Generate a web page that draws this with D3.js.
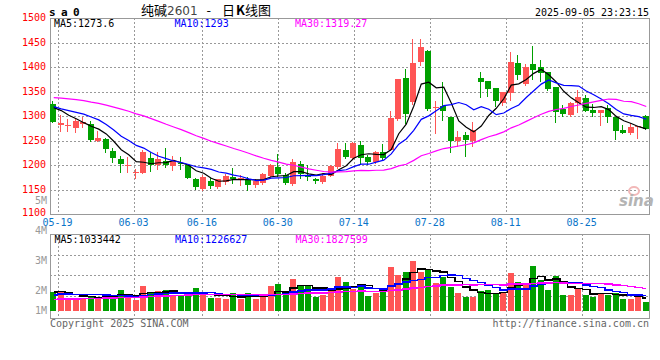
<!DOCTYPE html>
<html>
<head>
<meta charset="utf-8">
<script src="https://cdn.jsdelivr.net/npm/d3@7"></script>
<style>
  html, body { margin: 0; padding: 0; background: #fff; }
  svg { display: block; }
  text { font-family: "DejaVu Sans Mono", "Liberation Mono", monospace; font-size: 10px; }
</style>
</head>
<body>
<svg id="chart" width="660" height="360"></svg>
<script>
// trading days shown, 2025
const dates = [
  '05-16','05-19','05-20','05-21','05-22','05-23','05-26','05-27','05-28','05-29',
  '05-30','06-03','06-04','06-05','06-06','06-09','06-10','06-11','06-12','06-13',
  '06-16','06-17','06-18','06-19','06-20','06-23','06-24','06-25','06-26','06-27',
  '06-30','07-01','07-02','07-03','07-04','07-07','07-08','07-09','07-10','07-11',
  '07-14','07-15','07-16','07-17','07-18','07-21','07-22','07-23','07-24','07-25',
  '07-28','07-29','07-30','07-31','08-01','08-04','08-05','08-06','08-07','08-08',
  '08-11','08-12','08-13','08-14','08-15','08-18','08-19','08-20','08-21','08-22',
  '08-25','08-26','08-27','08-28','08-29','09-01','09-02','09-03','09-04','09-05'
];
const open = [
  1325,1282,1280,1276,1284,1284,1249,1253,1229,1213,
  1199,1184,1184,1214,1199,1208,1197,1205,1199,1172,
  1151,1168,1156,1166,1176,1170,1169,1159,1164,1178,
  1196,1180,1162,1202,1179,1172,1165,1178,1195,1231,
  1214,1241,1216,1207,1226,1231,1294,1377,1329,1410,
  1432,1316,1320,1298,1248,1261,1248,1377,1371,1357,
  1326,1346,1408,1366,1406,1400,1390,1360,1315,1302,
  1326,1337,1313,1307,1317,1298,1272,1266,1278,1301
];
const high = [
  1331,1303,1294,1295,1298,1290,1269,1256,1234,1219,
  1217,1192,1230,1226,1226,1235,1218,1216,1200,1174,
  1180,1174,1172,1181,1194,1180,1176,1171,1183,1203,
  1222,1183,1212,1209,1199,1174,1183,1199,1244,1244,
  1247,1249,1220,1229,1243,1311,1376,1396,1458,1458,
  1434,1331,1370,1298,1269,1268,1287,1390,1371,1357,
  1349,1431,1425,1406,1443,1415,1390,1360,1323,1328,
  1354,1342,1324,1313,1322,1298,1282,1286,1280,1303
];
const low = [
  1287,1270,1270,1268,1278,1250,1248,1226,1207,1185,
  1185,1173,1184,1187,1192,1195,1190,1192,1173,1152,
  1149,1154,1154,1162,1163,1160,1148,1155,1161,1176,
  1178,1161,1159,1173,1170,1163,1164,1177,1193,1214,
  1212,1202,1202,1204,1212,1230,1292,1285,1325,1405,
  1312,1266,1291,1227,1239,1218,1238,1339,1340,1321,
  1322,1333,1375,1364,1376,1372,1353,1288,1299,1299,
  1309,1310,1301,1282,1288,1254,1265,1264,1255,1274
];
const close = [
  1288,1285,1281,1290,1288,1251,1256,1232,1215,1202,
  1200,1185,1226,1200,1212,1201,1208,1202,1174,1156,
  1176,1157,1171,1178,1171,1173,1159,1168,1181,1199,
  1181,1164,1207,1182,1176,1168,1178,1197,1233,1217,
  1244,1214,1207,1226,1215,1296,1375,1305,1409,1441,
  1315,1318,1311,1248,1257,1251,1271,1370,1356,1331,
  1348,1410,1383,1400,1394,1388,1356,1309,1305,1327,
  1339,1310,1306,1313,1297,1270,1266,1278,1280,1274
];
// volume, thousand lots
const volume = [
  1572,1572,967,967,967,1237,1107,1237,1051,1711,
  1376,884,2037,1460,1628,1711,1293,1209,1209,1869,
  1293,1051,1051,967,1460,967,1460,967,1153,2037,
  2232,1293,2613,2120,2037,1153,1321,1655,2809,2399,
  1767,2232,1237,1488,1711,3636,2948,3227,4101,3227,
  3441,2316,2753,1981,1488,1153,1079,1655,1711,1432,
  1572,3143,2399,2316,3720,2483,1711,2892,1293,1293,
  1869,1293,1153,1488,1293,1480,930,930,1130,697
];
// the 29 sessions before 05-16 are off the chart; estimated from where the MA lines start
const earlierClose = [
  1318,1325,1340,1352,1338,1330,1345,1336,1326,1330,
  1342,1355,1368,1375,1380,1372,1365,1358,1350,1335,
  1330,1318,1325,1322,1310,1315,1328,1326,1328
];
const earlierVolume = [
  650,840,745,700,790,880,650,745,840,605,
  745,700,790,840,650,745,700,790,745,790,
  930,1023,1116,1060,1116,1395,1581,1544,1581
];

const xTicks = ['05-19','06-03','06-16','06-30','07-14','07-28','08-11','08-25'];
const priceTicks = [1100, 1150, 1200, 1250, 1300, 1350, 1400, 1450, 1500];
const volTicks = [5, 4, 3, 2, 1];
const maPeriods = [5, 10, 30];
const priceLegend = ['MA5:1273.6', 'MA10:1293', 'MA30:1319.27'];
const volLegend = ['MA5:1033442', 'MA10:1226627', 'MA30:1827599'];

const left = 50, right = 650;
const priceTop = 18, priceBottom = 214;
const volTop = 234, volBottom = 318, volBase = 310.5;
const upColor = '#ff5555', downColor = '#00a000';
const maColors = ['#000000', '#0000ff', '#ff00ff'];
const gridColor = '#999';

const svg = d3.select('#chart');

const x = d3.scaleBand().domain(dates).range([left, right]).paddingInner(0.2).paddingOuter(0.1);
const gx = d3.scaleLinear().domain([0, dates.length - 1]).range([left, right]);
const y = d3.scaleLinear().domain([1100, 1500]).range([priceBottom, priceTop]);
const vy = d3.scaleLinear().domain([0, 6000]).range([volBase, volBase - 72.5]);
const volLabelY = d3.scaleLinear().domain([1, 2, 5]).range([310.7, 290.5, 200.5]);

const bw = Math.round(x.bandwidth());
const bodyX = d => Math.floor(x(d));
const cx = d => Math.floor(x(d)) + 2.5;

function movingAvg(series, earlier, n) {
  const all = earlier.concat(series);
  return series.map((_, i) => d3.mean(all.slice(earlier.length + i - n + 1, earlier.length + i + 1)));
}

// grid
const grid = svg.append('g').attr('stroke', gridColor).attr('stroke-dasharray', '2,2')
  .attr('shape-rendering', 'crispEdges');
grid.selectAll('.hp').data(priceTicks.slice(1, -1)).enter().append('line')
  .attr('x1', left).attr('x2', right)
  .attr('y1', d => Math.round(y(d)) + 0.5).attr('y2', d => Math.round(y(d)) + 0.5);
grid.selectAll('.hv').data([1, 2, 3]).enter().append('line')
  .attr('x1', left).attr('x2', right)
  .attr('y1', d => Math.round(volTop + d * 20.5) + 0.5).attr('y2', d => Math.round(volTop + d * 20.5) + 0.5);
xTicks.forEach(t => {
  const gxp = Math.round(gx(dates.indexOf(t))) + 0.5;
  grid.append('line').attr('x1', gxp).attr('x2', gxp).attr('y1', priceTop).attr('y2', priceBottom);
  grid.append('line').attr('x1', gxp).attr('x2', gxp).attr('y1', volTop).attr('y2', volBottom);
});

// panel frames
const frame = svg.append('g').attr('fill', 'none').attr('stroke', gridColor).attr('shape-rendering', 'crispEdges');
frame.append('rect').attr('x', left + 0.5).attr('y', priceTop + 0.5)
  .attr('width', right - left - 1).attr('height', priceBottom - priceTop);
frame.append('rect').attr('x', left + 0.5).attr('y', volTop + 0.5)
  .attr('width', right - left - 1).attr('height', volBottom - volTop);

// sina watermark
const mark = svg.append('g');
mark.append('ellipse').attr('cx', 634).attr('cy', 191).attr('rx', 5).attr('ry', 4)
  .attr('fill', 'none').attr('stroke', '#f2b8b8').attr('stroke-width', 2);
mark.append('text').attr('x', 619).attr('y', 206)
  .style('font-family', '"DejaVu Sans", sans-serif').style('font-size', '15px')
  .style('font-weight', 'bold').style('font-style', 'italic')
  .attr('fill', '#b4b4b4').text('sina');

// candles
const candles = svg.append('g').attr('shape-rendering', 'crispEdges');
const candle = candles.selectAll('g').data(dates).enter().append('g')
  .attr('fill', (d, i) => close[i] >= open[i] ? upColor : downColor)
  .attr('stroke', (d, i) => close[i] >= open[i] ? upColor : downColor);
candle.append('line')
  .attr('x1', d => cx(d)).attr('x2', d => cx(d))
  .attr('y1', (d, i) => Math.round(y(high[i]))).attr('y2', (d, i) => Math.round(y(low[i])) + 1);
candle.append('rect')
  .attr('stroke', 'none')
  .attr('x', d => bodyX(d)).attr('width', bw)
  .attr('y', (d, i) => Math.round(y(Math.max(open[i], close[i]))))
  .attr('height', (d, i) => Math.max(1, Math.round(y(Math.min(open[i], close[i]))) - Math.round(y(Math.max(open[i], close[i])))));

// volume bars
svg.append('g').attr('shape-rendering', 'crispEdges')
  .selectAll('rect').data(volume).enter().append('rect')
  .attr('x', (d, i) => bodyX(dates[i])).attr('width', bw)
  .attr('y', d => Math.round(vy(d)))
  .attr('height', d => Math.round(volBase) - Math.round(vy(d)))
  .attr('fill', (d, i) => close[i] >= open[i] ? upColor : downColor);

// moving averages
const priceLine = d3.line().x((d, i) => x(dates[i]) + x.bandwidth() / 2).y(d => y(d));
const volLine = d3.line().x((d, i) => x(dates[i]) + x.bandwidth() / 2).y(d => vy(d)).curve(d3.curveStep);
maPeriods.forEach((n, k) => {
  svg.append('path').datum(movingAvg(close, earlierClose, n))
    .attr('fill', 'none').attr('stroke', maColors[k]).attr('stroke-width', 1.2)
    .attr('d', priceLine);
  svg.append('path').datum(movingAvg(volume, earlierVolume, n))
    .attr('fill', 'none').attr('stroke', maColors[k]).attr('stroke-width', 1.5)
    .attr('shape-rendering', 'crispEdges')
    .attr('d', volLine);
});

// legends
priceLegend.forEach((t, k) => {
  svg.append('text').attr('x', 54 + k * 120.5).attr('y', 27).attr('fill', maColors[k]).text(t);
});
volLegend.forEach((t, k) => {
  svg.append('text').attr('x', 54.5 + k * 120.5).attr('y', 242.5).attr('fill', maColors[k]).text(t);
});

// price axis labels
svg.append('g').selectAll('text').data(priceTicks).enter().append('text')
  .attr('x', 46).attr('text-anchor', 'end').attr('fill', '#ff0000')
  .attr('y', d => Math.min(212.5, Math.max(15.5, y(d) - 0.5)) + 3.6)
  .text(d => d);

// volume axis labels
svg.append('g').selectAll('text').data(volTicks).enter().append('text')
  .attr('x', 47).attr('text-anchor', 'end').attr('fill', '#999')
  .attr('y', d => volLabelY(d) + 3.6)
  .text(d => d + 'M');

// date labels
svg.append('g').selectAll('text').data(xTicks).enter().append('text')
  .attr('x', d => gx(dates.indexOf(d)))
  .attr('y', 225.5).attr('text-anchor', 'middle').attr('fill', '#0a74c9')
  .text(d => d);

// header
svg.append('text').attr('x', 49).attr('y', 16)
  .style('font-size', '11px').style('font-weight', 'bold').style('letter-spacing', '5.4px')
  .text('sa0');
const title = svg.append('text').attr('x', 141).attr('y', 15)
  .style('font-family', '"Noto Sans CJK SC", sans-serif').style('font-size', '13px').attr('fill', '#000');
title.append('tspan').text('纯碱');
title.append('tspan').attr('fill', '#444').style('font-family', '"DejaVu Sans", sans-serif').style('font-size', '12px').text('2601');
title.append('tspan').attr('dx', 9).text('-');
title.append('tspan').attr('dx', 11).text('日');
title.append('tspan').attr('dx', 1).style('font-weight', 'bold').text('K');
title.append('tspan').text('线图');
svg.append('text').attr('x', 649).attr('y', 15.5).attr('text-anchor', 'end')
  .style('font-size', '11px').attr('textLength', 114).attr('lengthAdjust', 'spacingAndGlyphs')
  .text('2025-09-05 23:23:15');

// footer
svg.append('text').attr('x', 50).attr('y', 327).attr('fill', '#666').text('Copyright 2025 SINA.COM');
svg.append('text').attr('x', 649).attr('y', 327).attr('text-anchor', 'end').attr('fill', '#666')
  .text('http://finance.sina.com.cn');
</script>
</body>
</html>
